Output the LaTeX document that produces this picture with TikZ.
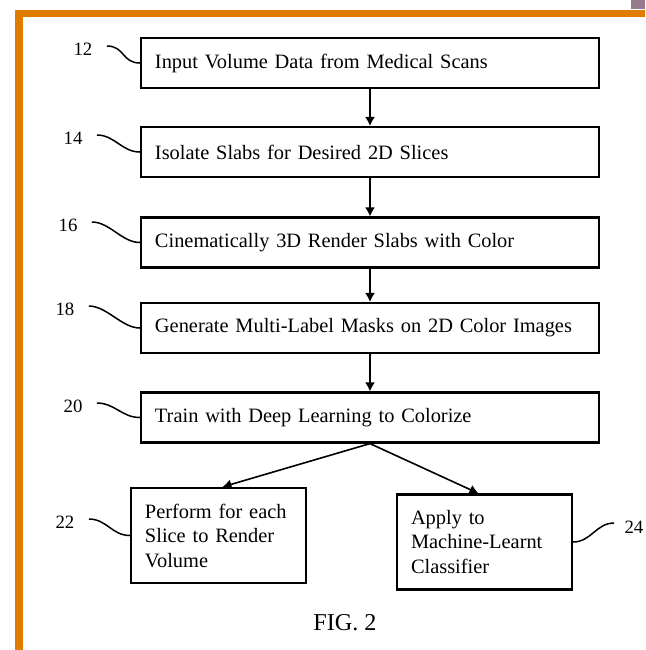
\documentclass[tikz,border=0pt]{standalone}
\usepackage{fontspec}
\setmainfont{Liberation Serif}
\usepackage{xcolor}
\usetikzlibrary{arrows.meta}
\definecolor{frameorange}{RGB}{224,124,0}
\definecolor{cornergray}{RGB}{150,125,140}

\begin{document}
\begin{tikzpicture}[x=0.5pt,y=-0.5pt,
  stepbox/.style={draw,line width=1.1pt,minimum height=25pt,inner xsep=7pt,inner ysep=0pt,
    align=left,font=\fontsize{10.2}{12.25}\selectfont},
  widebox/.style={stepbox,text width=215pt},
  smallbox/.style={stepbox,text width=73.5pt,minimum height=47.5pt},
  numlabel/.style={inner sep=0pt,font=\fontsize{9.4}{11}\selectfont},
  leader/.style={line width=0.75pt},
  flow/.style={line width=0.8pt,-{Latex[length=4.5pt,width=5pt]}}]
\useasboundingbox (0,0) rectangle (645,650);
      \fill[white] (0,0) rectangle (645,650);
      \fill[frameorange] (15,10) rectangle (645,17);
      \fill[frameorange] (15,10) rectangle (23,650);
      \fill[cornergray] (631,0) rectangle (645,9);

      \node[widebox] (b12) at (370,63) {Input Volume Data from Medical Scans};
      \node[widebox] (b14) at (370,152) {Isolate Slabs for Desired 2D Slices};
      \node[widebox] (b16) at (370,242.5) {Cinematically 3D Render Slabs with Color};
      \node[widebox] (b18) at (370,328) {Generate Multi-Label Masks on 2D Color Images};
      \node[widebox] (b20) at (370,417.5) {Train with Deep Learning to Colorize};
      \node[smallbox] (b22) at (218.5,535.5) {Perform for each\\Slice to Render\\Volume};
      \node[smallbox] (b24) at (484.5,542) {Apply to\\Machine-Learnt\\Classifier};

      \draw[flow] (b12) -- (b14);
      \draw[flow] (b14) -- (b16);
      \draw[flow] (b16) -- (b18);
      \draw[flow] (b18) -- (b20);
      \draw[flow] (b20.south) -- ([xshift=2pt]b22.north);
      \draw[flow] (b20.south) -- ([xshift=-3pt]b24.north);

      \node[numlabel] (l12) at (83,49) {12};
      \node[numlabel] (l14) at (73,138) {14};
      \node[numlabel] (l16) at (68,225) {16};
      \node[numlabel] (l18) at (65,309) {18};
      \node[numlabel] (l20) at (73,406) {20};
      \node[numlabel] (l22) at (65,522) {22};
      \node[numlabel] (l24) at (634,527) {24};
      \foreach \n in {12,14,16,18,20,22}
        \draw[leader] ([shift={(14,-3)}]l\n.east) .. controls +(18,0) and +(-18,0) .. (b\n.west);
      \draw[leader] (b24.east) .. controls +(18,0) and +(-18,0) .. ([shift={(-10,-4)}]l24.west);

      \node[font=\fontsize{12.1}{14}\selectfont] (fig) at (345,623) {FIG. 2};
\end{tikzpicture}
\end{document}
